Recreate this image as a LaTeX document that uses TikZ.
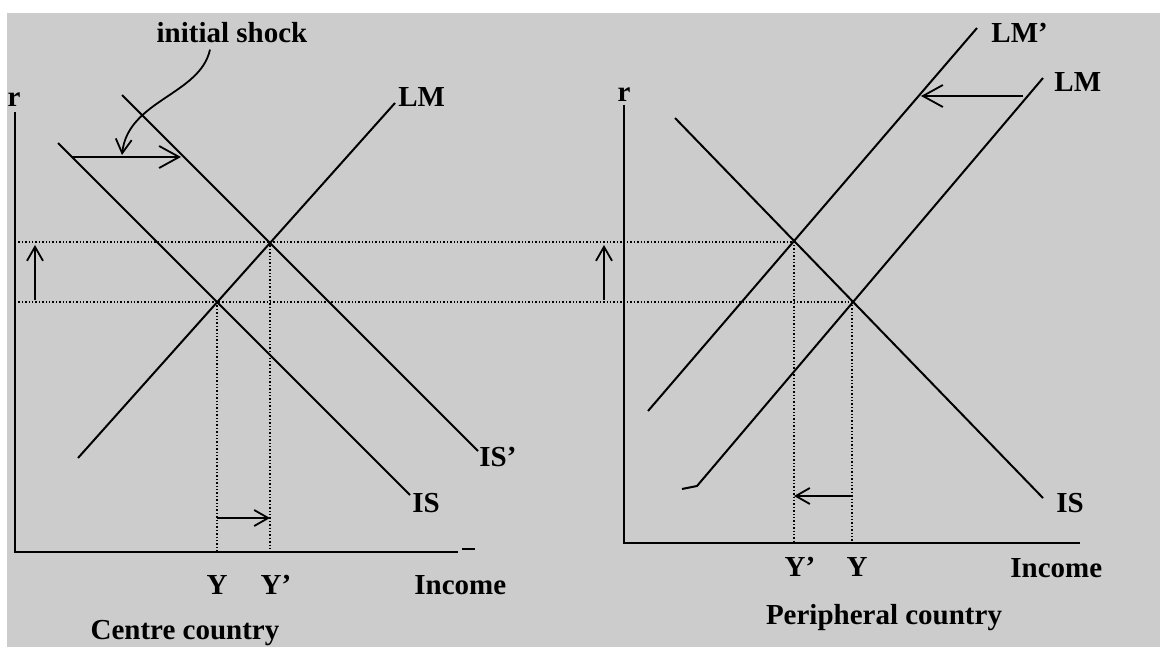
\documentclass[tikz,border=0pt]{standalone}
\usepackage{fontspec}
\setmainfont{Liberation Serif}
\usetikzlibrary{arrows.meta}

\begin{document}
\begin{tikzpicture}[
    x=0.5pt, y=-0.5pt,
    curve/.style={line width=1pt},
    axis/.style={line width=1.1pt},
    guide/.style={densely dotted, line width=0.7pt},
    shiftarrow/.style={line width=0.9pt, -{Straight Barb[length=7pt,width=8pt]}},
    bigshift/.style={line width=0.9pt, -{Straight Barb[length=10pt,width=11pt]}},
    lbl/.style={font=\bfseries\fontsize{14.5}{17}\selectfont, inner sep=0pt}
]

% Colors
\definecolor{paper}{RGB}{204,204,204}

\useasboundingbox (0,0) rectangle (1160,647);
\fill[paper] (7,13) rectangle (1160,647);

% Equilibrium points
\coordinate (cE0) at (217,302);
\coordinate (cE1) at (270,242);
\coordinate (pE0) at (852,302);
\coordinate (pE1) at (794,242);

% Axes
\draw[axis] (15,112) -- (15,552) -- (458,552);
\draw[axis] (462,549) -- (475,549);
\draw[axis] (624,105) -- (624,543) -- (1080,543);

% Dotted guides
\draw[guide] (15,242) -- (pE1) -- (794,543);
\draw[guide] (15,302) -- (pE0) -- (852,543);
\draw[guide] (cE0) -- (217,552);
\draw[guide] (cE1) -- (270,552);

% Centre country curves
\draw[curve] (78,458) -- (395,103);
\draw[curve] (58,143) -- (410,495);
\draw[curve] (122,95) -- (478,451);

% Peripheral country curves
\draw[curve] (675,118) -- (1043,498);
\draw[curve] (648,411) -- (977,28);
\draw[curve] (682,489) -- (697,486) -- (1043,78);

% Labels
\node[lbl] (rC) at (14,100) {r};
\node[lbl, anchor=west] (lmC) at (398,97) {LM};
\node[lbl, anchor=west] (isCp) at (479,457) {IS'};
\node[lbl, anchor=west] (isC) at (412,503) {IS};
\node[lbl] (yC) at (217,585) {Y};
\node[lbl] (yCp) at (276,585) {Y'};
\node[lbl, anchor=west] (incC) at (414,585) {Income};
\node[lbl] (centre) at (185,633) {Centre country};
\node[lbl] (shock) at (232,33) {initial shock};

\node[lbl] (rP) at (624,95) {r};
\node[lbl, anchor=west] (lmPp) at (991,33) {LM'};
\node[lbl, anchor=west] (lmP) at (1054,82) {LM};
\node[lbl, anchor=west] (isP) at (1056,503) {IS};
\node[lbl] (yPp) at (800,567) {Y'};
\node[lbl] (yP) at (857,567) {Y};
\node[lbl, anchor=west] (incP) at (1010,568) {Income};
\node[lbl] (periph) at (884,618) {Peripheral country};

% Shifts
\coordinate (shockTip) at (122,155);
\draw[bigshift] (72,157) -- (181,157);
\draw[shiftarrow] ([xshift=-11pt,yshift=-3pt]shock.south) .. controls (200,95) and (128,100) .. (shockTip);
\draw[shiftarrow] (35,300) -- (35,245);
\draw[shiftarrow] (604,300) -- (604,245);
\draw[shiftarrow] (217,518) -- (270,518);
\draw[shiftarrow] (852,496) -- (794,496);
\draw[bigshift] (1023,96) -- (921,96);

\end{tikzpicture}
\end{document}
